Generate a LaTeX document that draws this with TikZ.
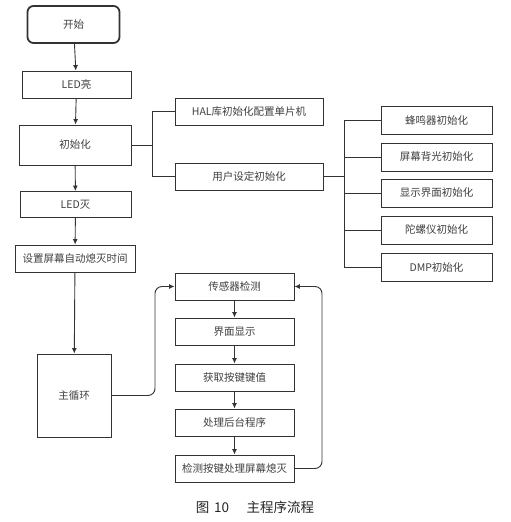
\documentclass[tikz,border=0pt]{standalone}
\usepackage{fontspec}
\setmainfont{Noto Sans CJK SC}
\usetikzlibrary{arrows.meta}
\begin{document}
\begin{tikzpicture}[x=1pt,y=-1pt,
  box/.style={draw=black!80, line width=0.9pt, fill=white, inner sep=0pt, text=black!75,
    font=\fontsize{10.5}{12}\selectfont},
  arr/.style={draw=black!80, line width=0.9pt, -{Latex[length=5.5pt,width=5pt]}},
  ln/.style={draw=black!80, line width=0.9pt}]
\useasboundingbox (0,0) rectangle (511,522);
% left column
\node[box, rounded corners=6pt, line width=1.8pt, minimum width=92pt, minimum height=37pt] (start) at (73.5,24.5) {开始};
\node[box, minimum width=109pt, minimum height=27pt] (led1) at (76.5,84.5) {LED亮};
\node[box, minimum width=112pt, minimum height=40pt] (init) at (75,145) {初始化};
\node[box, minimum width=111pt, minimum height=26pt] (led2) at (75.5,204.5) {LED灭};
\node[box, minimum width=120pt, minimum height=27pt] (sett) at (75,258.5) {设置屏幕自动熄灭时间};
\node[box, minimum width=74pt, minimum height=83pt] (mainl) at (74,395.5) {主循环};
% init branch
\node[box, minimum width=148pt, minimum height=27pt] (hal) at (249,111.5) {HAL库初始化配置单片机};
\node[box, minimum width=148pt, minimum height=27pt] (user) at (249,176.5) {用户设定初始化};
\node[box, minimum width=111pt, minimum height=28pt] (r1) at (436.5,120) {蜂鸣器初始化};
\node[box, minimum width=111pt, minimum height=28pt] (r2) at (436.5,157) {屏幕背光初始化};
\node[box, minimum width=111pt, minimum height=28pt] (r3) at (436.5,193) {显示界面初始化};
\node[box, minimum width=111pt, minimum height=28pt] (r4) at (436.5,230) {陀螺仪初始化};
\node[box, minimum width=111pt, minimum height=28pt] (r5) at (436.5,267.5) {DMP初始化};
% loop column
\node[box, minimum width=119pt, minimum height=27pt] (s1) at (234.5,286.5) {传感器检测};
\node[box, minimum width=119pt, minimum height=27pt] (s2) at (234.5,331.5) {界面显示};
\node[box, minimum width=119pt, minimum height=27pt] (s3) at (234.5,377.5) {获取按键键值};
\node[box, minimum width=119pt, minimum height=27pt] (s4) at (234.5,422.5) {处理后台程序};
\node[box, minimum width=119pt, minimum height=27pt] (s5) at (234.5,468.5) {检测按键处理屏幕熄灭};
% arrows
\draw[arr] (start) -- (led1);
\draw[arr] (led1) -- (init);
\draw[arr] (init) -- (led2);
\draw[arr] (led2) -- (sett);
\draw[arr] (sett) -- (mainl);
\draw[arr] (s1) -- (s2);
\draw[arr] (s2) -- (s3);
\draw[arr] (s3) -- (s4);
\draw[arr] (s4) -- (s5);
% branches
\coordinate (b1) at (152,145);
\coordinate (b2) at (344,176.5);
\draw[ln] (init.east) -- (b1) |- (hal.west);
\draw[ln] (b1) |- (user.west);
\draw[ln] (user.east) -- (b2);
\draw[ln] (b2) |- (r1.west);
\draw[ln] (b2) |- (r5.west);
\draw[ln] (b2 |- r2.west) -- (r2.west);
\draw[ln] (b2 |- r3.west) -- (r3.west);
\draw[ln] (b2 |- r4.west) -- (r4.west);
% loops
\coordinate (m1) at (155,395.5);
\coordinate (m2) at (322,468.5);
\draw[arr, rounded corners=7pt] (mainl.east) -- (m1) |- (s1.west);
\draw[arr, rounded corners=7pt] (s5.east) -- (m2) |- (s1.east);
% caption
\node[font=\fontsize{13.5}{16}\selectfont, text=black!85] (cap) at (255,507) {图\hspace{0.35em}10\hspace{1.3em}主程序流程};
\end{tikzpicture}
\end{document}
